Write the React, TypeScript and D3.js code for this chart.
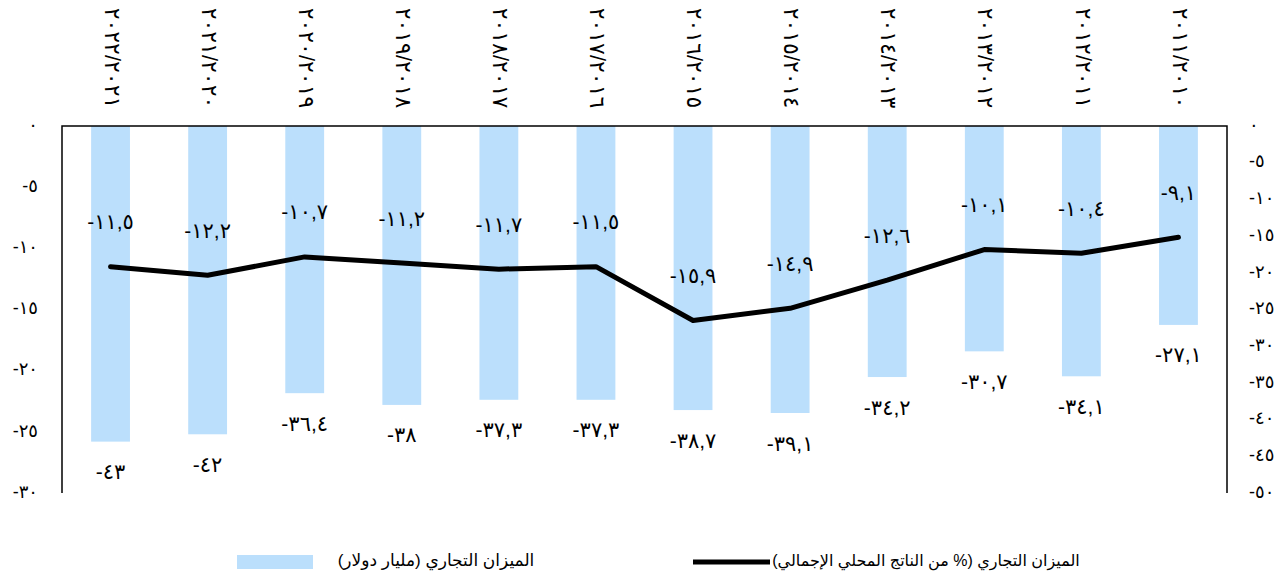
import React from 'react';
import * as d3 from 'd3';

// fiscal years, as shown left to right (text read top to bottom)
const years = [
  '٢٠٢٢/٢٠٢١', '٢٠٢١/٢٠٢٠', '٢٠٢٠/٢٠١٩', '٢٠١٩/٢٠١٨', '٢٠١٨/٢٠١٧', '٢٠١٧/٢٠١٦',
  '٢٠١٦/٢٠١٥', '٢٠١٥/٢٠١٤', '٢٠١٤/٢٠١٣', '٢٠١٣/٢٠١٢', '٢٠١٢/٢٠١١', '٢٠١١/٢٠١٠',
];
// trade balance, billion dollars (bars, right axis)
const balanceBn = [-43, -42, -36.4, -38, -37.3, -37.3, -38.7, -39.1, -34.2, -30.7, -34.1, -27.1];
// trade balance, % of GDP (line, left axis)
const balancePct = [-11.5, -12.2, -10.7, -11.2, -11.7, -11.5, -15.9, -14.9, -12.6, -10.1, -10.4, -9.1];

const leftTicks = [0, -5, -10, -15, -20, -25, -30];
const rightTicks = [0, -5, -10, -15, -20, -25, -30, -35, -40, -45, -50];

const legendBars = 'الميزان التجاري (مليار دولار)';
const legendLine = 'الميزان التجاري (% من الناتج المحلي الإجمالي)';

const W = 1288, H = 581;
const left = 62, right = 1227, top = 126, bottom = 493;
const barColor = '#bbdffc';
const font = '"Liberation Sans", Arial, "DejaVu Sans", sans-serif';

// western digits -> arabic-indic, decimal point -> comma
const ar = (v: number) =>
  String(v).replace(/[0-9]/g, (c) => '٠١٢٣٤٥٦٧٨٩'[+c]).replace('.', ',');

export default function App() {
  const x = d3.scaleBand<string>().domain(years).range([left, right]).paddingInner(0.6).paddingOuter(0.3);
  const yL = d3.scaleLinear().domain([0, -30]).range([top, bottom]);
  const yR = d3.scaleLinear().domain([0, -50]).range([top, bottom]);
  const cx = (i: number) => (x(years[i]) as number) + x.bandwidth() / 2;

  const line = d3.line<number>().x((d, i) => cx(i)).y((d) => yL(d));

  return (
    <svg width={W} height={H} style={{ position: 'absolute', left: 0, top: 0, background: '#fff' }} fontFamily={font}>
      {/* bars */}
      {balanceBn.map((v, i) => (
        <rect key={'b' + i} x={x(years[i])} y={yR(0)} width={x.bandwidth()} height={yR(v) - yR(0)} fill={barColor} />
      ))}

      {/* frame: left, top, right */}
      <path d={`M${left},${bottom}V${top}H${right}V${bottom}`} fill="none" stroke="#000" strokeWidth={1.5} />

      {/* line */}
      <path d={line(balancePct) || ''} fill="none" stroke="#000" strokeWidth={5} strokeLinejoin="round" strokeLinecap="round" />

      {/* line labels */}
      {balancePct.map((v, i) => (
        <text key={'lp' + i} x={cx(i)} y={yL(v) - 43} textAnchor="middle" dominantBaseline="middle" fontSize={21}>
          {ar(v)}
        </text>
      ))}

      {/* bar labels */}
      {balanceBn.map((v, i) => (
        <text key={'lb' + i} x={cx(i)} y={yR(v) + 32} textAnchor="middle" dominantBaseline="middle" fontSize={21}>
          {ar(v)}
        </text>
      ))}

      {/* category labels, rotated */}
      {years.map((c, i) => (
        <text key={'c' + i} transform={`translate(${cx(i)},58) rotate(90)`} textAnchor="middle" dominantBaseline="middle" fontSize={22}>
          {c}
        </text>
      ))}

      {/* left axis */}
      {leftTicks.map((t) => (
        <text key={'l' + t} x={38} y={yL(t)} textAnchor="end" dominantBaseline="middle" fontSize={18}>
          {ar(t)}
        </text>
      ))}

      {/* right axis */}
      {rightTicks.map((t) => (
        <text key={'r' + t} x={1249} y={yR(t)} textAnchor="start" dominantBaseline="middle" fontSize={18}>
          {ar(t)}
        </text>
      ))}

      {/* legend */}
      <rect x={237} y={555} width={76} height={14} fill={barColor} />
      <text x={436} y={562} textAnchor="middle" dominantBaseline="middle" fontSize={17} direction="rtl">
        {legendBars}
      </text>
      <line x1={693} x2={770} y1={562} y2={562} stroke="#000" strokeWidth={5} />
      <text x={926} y={562} textAnchor="middle" dominantBaseline="middle" fontSize={16} direction="rtl">
        {legendLine}
      </text>
    </svg>
  );
}
